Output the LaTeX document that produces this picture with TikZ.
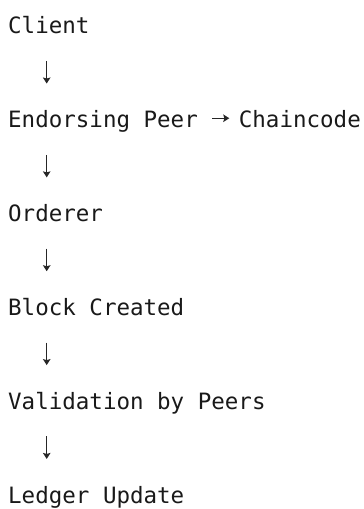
\documentclass[tikz,border=0pt]{standalone}
\usepackage{fontspec}
\setmonofont{DejaVu Sans Mono}
\usetikzlibrary{positioning,arrows.meta}

\tikzset{
	stage/.style={inner sep=0pt, anchor=base west, text=black!90, font=\ttfamily\fontsize{22.5pt}{27pt}\selectfont},
	flow/.style={line width=1.2pt, draw=black!85, -{Stealth[length=6pt,width=7.5pt,inset=1pt]}}
}

\begin{document}
\begin{tikzpicture}[x=1pt, y=1pt]
	\useasboundingbox (0, 0) rectangle (364, 509);

	\node[stage] (client) at (8, 475) {Client};
	\node[stage, below=93.85pt of client.base west, anchor=base west] (endorsing) {Endorsing Peer};
	\node[stage, right=40.65pt of endorsing.base east, anchor=base west] (chaincode) {Chaincode};
	\node[stage, below=93.85pt of endorsing.base west, anchor=base west] (orderer) {Orderer};
	\node[stage, below=93.85pt of orderer.base west, anchor=base west] (block) {Block Created};
	\node[stage, below=93.85pt of block.base west, anchor=base west] (validation) {Validation by Peers};
	\node[stage, below=93.85pt of validation.base west, anchor=base west] (ledger) {Ledger Update};

	\draw[flow] ([xshift=38.7pt, yshift=-27pt]client.base west) -- ([xshift=38.7pt, yshift=44.3pt]endorsing.base west);
	\draw[flow] ([xshift=14pt, yshift=9.6pt]endorsing.base east) -- ([xshift=-9.4pt, yshift=9.6pt]chaincode.base west);
	\draw[flow] ([xshift=38.7pt, yshift=-27pt]endorsing.base west) -- ([xshift=38.7pt, yshift=44.3pt]orderer.base west);
	\draw[flow] ([xshift=38.7pt, yshift=-27pt]orderer.base west) -- ([xshift=38.7pt, yshift=44.3pt]block.base west);
	\draw[flow] ([xshift=38.7pt, yshift=-27pt]block.base west) -- ([xshift=38.7pt, yshift=44.3pt]validation.base west);
	\draw[flow] ([xshift=38.7pt, yshift=-27pt]validation.base west) -- ([xshift=38.7pt, yshift=44.3pt]ledger.base west);

\end{tikzpicture}
\end{document}
